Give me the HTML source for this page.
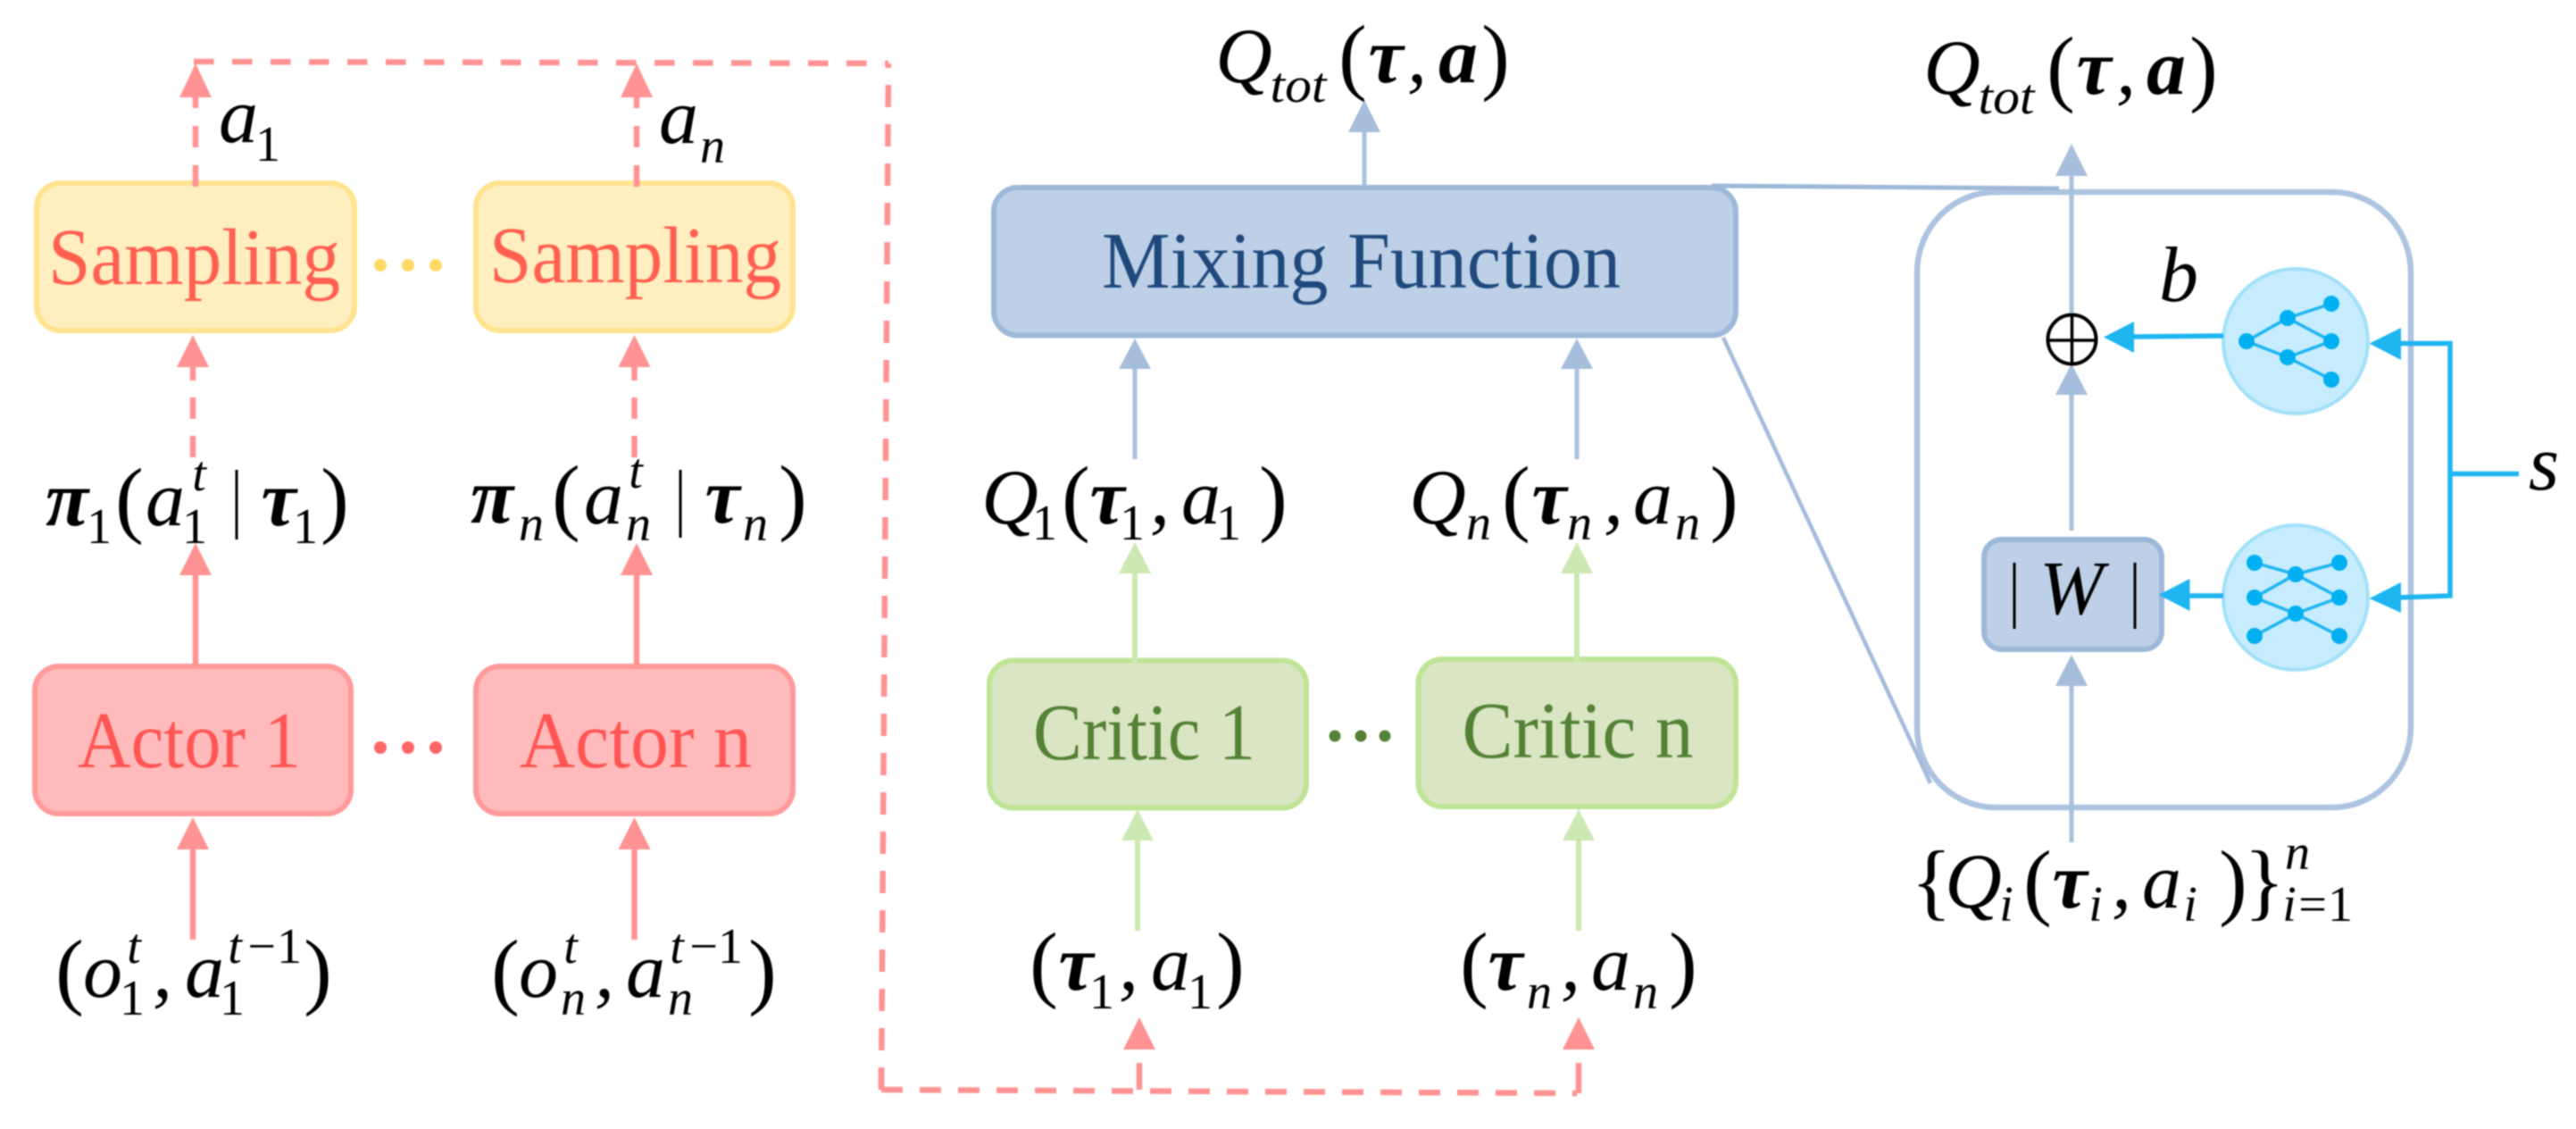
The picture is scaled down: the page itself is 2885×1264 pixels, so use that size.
<!DOCTYPE html>
<html><head><meta charset="utf-8"><style>
html,body{margin:0;padding:0;background:#fff;width:2885px;height:1264px;overflow:hidden}
svg{display:block;filter:blur(0.7px)}
text{font-family:"Liberation Serif",serif;text-anchor:middle;fill:#000}
.m{font-size:88px;font-style:italic}
.s{font-size:56px;font-style:italic}
.d{font-size:56px}
.p{font-size:95px}
.b{font-size:88px;font-style:italic;font-weight:bold}
.y{font-size:90px;fill:#FF6050}
.r{font-size:90px;fill:#FF5555}
.g{font-size:90px;fill:#538135}
.u{font-size:90px;fill:#1F497D}
.rd{stroke:#FF9393;stroke-width:6.5;fill:none}
.bl{stroke:#A9C0DE;stroke-width:5;fill:none}
.gr{stroke:#CDE8B2;stroke-width:6;fill:none}
.cy{stroke:#1FB5F1;stroke-width:5.5;fill:none}
.nn{stroke:#1FB5F1;stroke-width:3.5;fill:none}
</style></head><body>
<svg width="2885" height="1264" viewBox="0 0 2885 1264" xmlns="http://www.w3.org/2000/svg">

<!-- zoom lines and big box -->
<rect x="2147" y="215" width="553" height="689" rx="88" ry="90" fill="#fff" stroke="#ADC3E0" stroke-width="6.500"/>

<!-- boxes -->
<rect x="41" y="205" width="356" height="165" rx="27" fill="#FFEEC0" stroke="#FFE38F" stroke-width="6"/>
<rect x="533" y="205" width="355" height="165" rx="27" fill="#FFEEC0" stroke="#FFE38F" stroke-width="6"/>
<rect x="39" y="746" width="354" height="165" rx="27" fill="#FFBBBB" stroke="#FF9A9A" stroke-width="6"/>
<rect x="533" y="746" width="355" height="165" rx="27" fill="#FFBBBB" stroke="#FF9A9A" stroke-width="6"/>
<rect x="1108" y="739.500" width="355" height="165" rx="27" fill="#DAE5C3" stroke="#BFE496" stroke-width="6"/>
<rect x="1588.500" y="738" width="355.500" height="165" rx="27" fill="#DAE5C3" stroke="#BFE496" stroke-width="6"/>
<rect x="1113" y="210" width="831" height="165.500" rx="27" fill="#BDD0E7" stroke="#9DB8D9" stroke-width="6"/>
<rect x="2222" y="604" width="199" height="123" rx="20" fill="#BDD0E7" stroke="#9DB8D9" stroke-width="6"/>

<path d="M1917 208 L2306 211" stroke="#9DB8D9" stroke-width="5" fill="none"/>
<path d="M1930 378 L2162 877" stroke="#A5BCDB" stroke-width="4.500" fill="none"/>

<!-- box labels -->
<text class="y" x="217.500" y="318" textLength="327" lengthAdjust="spacingAndGlyphs">Sampling</text>
<text class="y" x="711.500" y="316" textLength="327" lengthAdjust="spacingAndGlyphs">Sampling</text>
<text class="r" x="212" y="859" textLength="250" lengthAdjust="spacingAndGlyphs">Actor 1</text>
<text class="r" x="712" y="859" textLength="260" lengthAdjust="spacingAndGlyphs">Actor n</text>
<text class="g" x="1281.500" y="850" textLength="249" lengthAdjust="spacingAndGlyphs">Critic 1</text>
<text class="g" x="1767" y="848" textLength="259" lengthAdjust="spacingAndGlyphs">Critic n</text>
<text class="u" x="1524.500" y="322" textLength="581" lengthAdjust="spacingAndGlyphs">Mixing Function</text>

<!-- ellipsis dots -->
<g fill="#FFD966"><circle cx="426" cy="297" r="7"/><circle cx="457" cy="297" r="7"/><circle cx="488" cy="297" r="7"/></g>
<g fill="#FF6666"><circle cx="426" cy="837" r="7"/><circle cx="457" cy="837" r="7"/><circle cx="488" cy="837" r="7"/></g>
<g fill="#538135"><circle cx="1495" cy="824" r="6.500"/><circle cx="1524" cy="824" r="6.500"/><circle cx="1551" cy="824" r="6.500"/></g>

<!-- red dashed feedback -->
<path class="rd" d="M217 69 L995 71" stroke-dasharray="22.500 20.500"/>
<path class="rd" d="M987 1220 L995 71" stroke-dasharray="25 19"/>
<path class="rd" d="M987 1195 L987 1220" />
<path class="rd" d="M987 1220 L1766 1224" stroke-dasharray="24 19"/>
<path class="rd" d="M1276 1220 L1276 1190"/>
<path class="rd" d="M1768 1224 L1768 1190"/>
<path d="M1276 1139 L1294 1175 L1258 1175 Z M1768 1139 L1786 1175 L1750 1175 Z" fill="#FF9393"/>

<!-- red arrows -->
<path class="rd" d="M219 209 L219 108" stroke-dasharray="24 20"/>
<path class="rd" d="M713 209 L713 108" stroke-dasharray="24 20"/>
<path d="M219 71 L237 109 L201 109 Z M713 71 L731 109 L695 109 Z" fill="#FF9393"/>
<path class="rd" d="M216 512 L216 411" stroke-dasharray="24 19"/>
<path class="rd" d="M710.500 512 L710.500 411" stroke-dasharray="24 19"/>
<path d="M216 375 L234 411 L198 411 Z M710.500 375 L728.500 411 L692.500 411 Z" fill="#FF9393"/>
<path class="rd" d="M219 746 L219 640 M713 746 L713 640 M216 1052 L216 948 M710.500 1052 L710.500 948"/>
<path d="M219 608 L237 644 L201 644 Z M713 608 L731 644 L695 644 Z M216 915 L234 951 L198 951 Z M710.500 915 L728.500 951 L692.500 951 Z" fill="#FF9393"/>

<!-- green arrows -->
<path class="gr" d="M1271 742 L1271 640 M1766 742 L1766 640 M1274 1042 L1274 939 M1768 1042 L1768 939"/>
<path d="M1271 607 L1289 642 L1253 642 Z M1766 607 L1784 642 L1748 642 Z M1274 906 L1292 941 L1256 941 Z M1768 906 L1786 941 L1750 941 Z" fill="#CDE8B2"/>

<!-- blue arrows -->
<path class="bl" d="M1528 208 L1528 146 M1271 514 L1271 411 M1766 514 L1766 411 M2320 350 L2320 195 M2320 594 L2320 440 M2320 943 L2320 766"/>
<path d="M1528 112 L1546 148 L1510 148 Z M1271 379 L1289 413 L1253 413 Z M1766 379 L1784 413 L1748 413 Z M2320 161 L2338 197 L2302 197 Z M2320 407 L2338 442 L2302 442 Z M2320 733 L2338 768 L2302 768 Z" fill="#A6BEDC"/>

<!-- plus circle -->
<ellipse cx="2320.500" cy="380" rx="27" ry="27.500" fill="#fff" stroke="#000" stroke-width="4"/>
<path d="M2293 381 H2348 M2320.500 352 V408" stroke="#000" stroke-width="3.500"/>

<!-- network circles -->
<ellipse cx="2571" cy="382" rx="81" ry="81" fill="#C7ECFD" stroke="#A2E1F9" stroke-width="4"/>
<ellipse cx="2571" cy="669" rx="81" ry="81" fill="#C7ECFD" stroke="#A2E1F9" stroke-width="4"/>
<path class="nn" d="M2516 382 L2562 356 M2516 382 L2562 400 M2562 356 L2611 340 M2562 356 L2611 382 M2562 400 L2611 382 M2562 400 L2611 425"/>
<g fill="#00B0F0"><circle cx="2516" cy="382" r="9"/><circle cx="2562" cy="356" r="9"/><circle cx="2562" cy="400" r="9"/><circle cx="2611" cy="340" r="9"/><circle cx="2611" cy="382" r="9"/><circle cx="2611" cy="425" r="9"/></g>
<path class="nn" d="M2525 630 L2571 643 L2620 630 M2525 669 L2571 643 L2620 669 M2525 669 L2571 687 L2620 669 M2525 712 L2571 687 L2620 712"/>
<g fill="#00B0F0"><circle cx="2525" cy="630" r="9"/><circle cx="2620" cy="630" r="9"/><circle cx="2571" cy="643" r="9"/><circle cx="2525" cy="669" r="9"/><circle cx="2620" cy="669" r="9"/><circle cx="2571" cy="687" r="9"/><circle cx="2525" cy="712" r="9"/><circle cx="2620" cy="712" r="9"/></g>

<!-- cyan connectors -->
<path class="cy" d="M2490 376 L2388 377 M2490 667 L2450 667 M2687 384.500 L2744 384.500 L2744 667 L2687 669 M2744 530.500 L2821 530.500"/>
<path d="M2356 377.500 L2390 360 L2390 395 Z M2417.500 666 L2452.500 648 L2452.500 684 Z M2653.500 384.500 L2689 367 L2689 403 Z M2653.500 670 L2689 652 L2689 686 Z" fill="#1FB5F1"/>

<!-- W -->
<path d="M2256 630 V704 M2391 630 V704" stroke="#000" stroke-width="3"/>
<text class="m" x="2320" y="687" style="font-size:86px">W</text>

<!-- a1 an b s -->
<text class="m" x="267" y="159">a</text><text class="d" x="300" y="180">1</text>
<text class="m" x="760" y="160">a</text><text class="s" x="798" y="182">n</text>
<text class="m" x="2440" y="337">b</text>
<text class="m" x="2849" y="548">s</text>

<!-- pi row -->
<text class="b" x="75" y="588">π</text><text class="d" x="111" y="608">1</text>
<text class="p" x="145" y="590">(</text><text class="m" x="185" y="588">a</text>
<text class="s" x="223" y="549">t</text><text class="d" x="218" y="608">1</text>
<path d="M265 526 V604 M762 526 V602" stroke="#000" stroke-width="3"/>
<text class="b" x="312" y="588">τ</text><text class="d" x="342" y="608">1</text>
<text class="p" x="375" y="590">)</text>

<text class="b" x="551" y="585">π</text><text class="s" x="595" y="605">n</text>
<text class="p" x="634" y="587">(</text><text class="m" x="676" y="586">a</text>
<text class="s" x="712" y="546">t</text><text class="s" x="715" y="605">n</text>
<text class="b" x="809" y="585">τ</text><text class="s" x="846" y="605">n</text>
<text class="p" x="888" y="587">)</text>

<!-- o,a row -->
<text class="p" x="78" y="1118">(</text><text class="m" x="115" y="1116">o</text>
<text class="s" x="150" y="1078">t</text><text class="d" x="148" y="1136">1</text>
<text class="m" x="182" y="1116">,</text><text class="m" x="229" y="1116">a</text>
<text class="s" x="263" y="1078">t</text><text class="d" x="293" y="1078">−</text><text class="d" x="324" y="1078">1</text>
<text class="d" x="260" y="1136">1</text><text class="p" x="356" y="1118">)</text>

<text class="p" x="566" y="1118">(</text><text class="m" x="603" y="1116">o</text>
<text class="s" x="639" y="1078">t</text><text class="s" x="642" y="1136">n</text>
<text class="m" x="677" y="1116">,</text><text class="m" x="723" y="1116">a</text>
<text class="s" x="758" y="1078">t</text><text class="d" x="788" y="1078">−</text><text class="d" x="818" y="1078">1</text>
<text class="s" x="762" y="1136">n</text><text class="p" x="854" y="1118">)</text>

<!-- Qtot left -->
<text class="m" x="1393" y="92">Q</text><text class="s" x="1454" y="114" textLength="63" lengthAdjust="spacingAndGlyphs">tot</text>
<text class="p" x="1515" y="94">(</text><text class="b" x="1552" y="92">τ</text>
<text class="m" x="1587" y="92">,</text><text class="b" x="1633" y="92">a</text><text class="p" x="1675" y="94">)</text>

<!-- Qtot right -->
<text class="m" x="2186" y="105">Q</text><text class="s" x="2247" y="127" textLength="63" lengthAdjust="spacingAndGlyphs">tot</text>
<text class="p" x="2308" y="107">(</text><text class="b" x="2345" y="105">τ</text>
<text class="m" x="2381" y="105">,</text><text class="b" x="2426" y="105">a</text><text class="p" x="2468" y="107">)</text>

<!-- Q1 Qn -->
<text class="m" x="1131" y="586">Q</text><text class="d" x="1170" y="604">1</text>
<text class="p" x="1205" y="588">(</text><text class="b" x="1240" y="586">τ</text><text class="d" x="1268" y="604">1</text>
<text class="m" x="1299" y="586">,</text><text class="m" x="1345" y="586">a</text><text class="d" x="1376" y="604">1</text>
<text class="p" x="1426" y="588">)</text>

<text class="m" x="1610" y="586">Q</text><text class="s" x="1656" y="604">n</text>
<text class="p" x="1698" y="588">(</text><text class="b" x="1735" y="586">τ</text><text class="s" x="1769" y="604">n</text>
<text class="m" x="1807" y="586">,</text><text class="m" x="1851" y="586">a</text><text class="s" x="1890" y="604">n</text>
<text class="p" x="1931" y="588">)</text>

<!-- tau,a row -->
<text class="p" x="1169" y="1110">(</text><text class="b" x="1205" y="1108">τ</text><text class="d" x="1234" y="1129">1</text>
<text class="m" x="1264" y="1108">,</text><text class="m" x="1311" y="1108">a</text><text class="d" x="1344" y="1129">1</text>
<text class="p" x="1378" y="1110">)</text>

<text class="p" x="1651" y="1110">(</text><text class="b" x="1686" y="1108">τ</text><text class="s" x="1724" y="1129">n</text>
<text class="m" x="1759" y="1108">,</text><text class="m" x="1804" y="1108">a</text><text class="s" x="1843" y="1129">n</text>
<text class="p" x="1885" y="1110">)</text>

<!-- Qi set -->
<text class="p" x="2163" y="1018">{</text><text class="m" x="2210" y="1016">Q</text><text class="s" x="2247" y="1031">i</text>
<text class="p" x="2282" y="1018">(</text><text class="b" x="2318" y="1016">τ</text><text class="s" x="2347" y="1031">i</text>
<text class="m" x="2376" y="1016">,</text><text class="m" x="2421" y="1016">a</text><text class="s" x="2453" y="1031">i</text>
<text class="p" x="2501" y="1018">)</text><text class="p" x="2536" y="1018">}</text>
<text class="s" x="2573" y="973">n</text>
<text class="s" x="2564" y="1031">i</text><text class="d" x="2590" y="1031">=</text><text class="d" x="2621" y="1031">1</text>
</svg>
</body></html>
